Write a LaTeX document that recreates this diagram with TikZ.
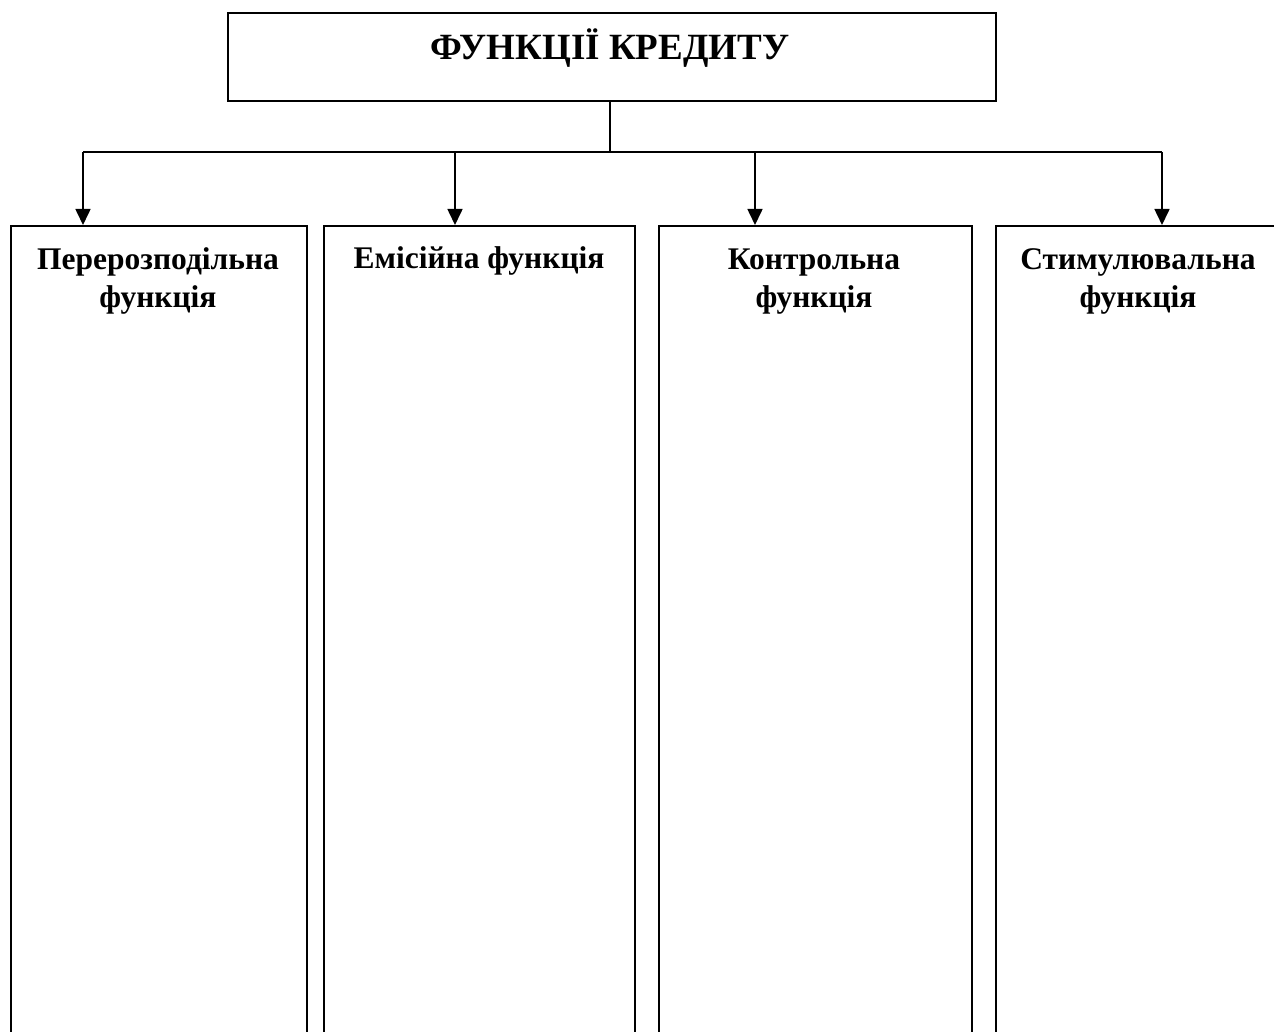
\documentclass[tikz,border=0pt]{standalone}
\usepackage{fontspec}
\setmainfont{Liberation Serif}
\usetikzlibrary{arrows.meta}
\begin{document}
\begin{tikzpicture}[x=1pt,y=-1pt,
  frame/.style={draw=black,line width=2pt,inner sep=0pt,anchor=north west},
  lbl/.style={font=\fontsize{31.5}{38}\selectfont\bfseries,align=center,anchor=base,inner sep=0pt},
  conn/.style={line width=1.6pt},
  arr/.style={line width=1.6pt,-{Triangle[width=15pt,length=16pt]}}]
\useasboundingbox (0,0) rectangle (1274,1032);
\clip (0,0) rectangle (1274,1032);
% title
\node[frame,minimum width=768pt,minimum height=88pt] (title) at (227,12) {};
\node[font=\fontsize{37}{42}\selectfont\bfseries,inner sep=0pt,anchor=base] (ttext) at (610,60) {ФУНКЦІЇ КРЕДИТУ};
% boxes
\node[frame,minimum width=296pt,minimum height=900pt] (b1) at (10,225) {};
\node[frame,minimum width=311pt,minimum height=900pt] (b2) at (323,225) {};
\node[frame,minimum width=313pt,minimum height=900pt] (b3) at (658,225) {};
\node[frame,minimum width=290pt,minimum height=900pt] (b4) at (995,225) {};
% labels (base anchor = baseline of the last line)
\node[lbl] (l1) at (158,307) {Перерозподільна\\функція};
\node[lbl] (l2) at (479,269) {Емісійна функція};
\node[lbl] (l3) at (814,307) {Контрольна\\функція};
\node[lbl] (l4) at (1138,307) {Стимулювальна\\функція};
% connectors
\coordinate (j) at (610,152);
\coordinate (a1) at (83,152);
\coordinate (a2) at (455,152);
\coordinate (a3) at (755,152);
\coordinate (a4) at (1162,152);
\draw[conn] (j |- title.south) -- (j);
\draw[conn] (a1) -- (a4);
\draw[arr] (a1) -- (a1 |- b1.north);
\draw[arr] (a2) -- (a2 |- b2.north);
\draw[arr] (a3) -- (a3 |- b3.north);
\draw[arr] (a4) -- (a4 |- b4.north);
\end{tikzpicture}
\end{document}
